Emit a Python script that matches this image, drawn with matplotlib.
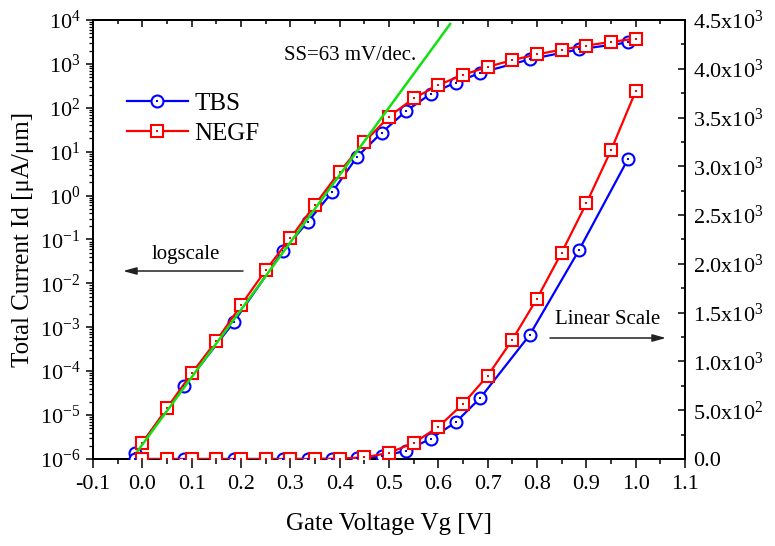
import math
import matplotlib
matplotlib.use("Agg")
import matplotlib.pyplot as plt
from matplotlib.ticker import MultipleLocator, LogLocator, FuncFormatter, FixedLocator, NullFormatter
from matplotlib.legend_handler import HandlerTuple

# ---------------- data ----------------
V_tbs = [-0.015, 0.085, 0.185, 0.285, 0.335, 0.385, 0.435, 0.485, 0.535,
         0.585, 0.635, 0.685, 0.785, 0.885, 0.985]
I_tbs = [1.4e-6, 4.6e-5, 1.3e-3, 0.055, 0.25, 1.2, 7.6, 27, 85,
         210, 375, 625, 1270, 2140, 3080]

V_negf = [0.0, 0.05, 0.10, 0.15, 0.20, 0.25, 0.30, 0.35, 0.40, 0.45, 0.50,
          0.55, 0.60, 0.65, 0.70, 0.75, 0.80, 0.85, 0.90, 0.95, 1.00]
I_negf = [2.3e-6, 1.45e-5, 8.9e-5, 4.9e-4, 3.2e-3, 0.020, 0.107, 0.62, 3.5, 16.6, 63,
          164, 329, 565, 853, 1223, 1644, 2116, 2620, 3164, 3770]

V_ss = [-0.02, 0.624]
I_ss = [1.05e-6, 8.1e3]

x_ticks = [-0.1, 0.0, 0.1, 0.2, 0.3, 0.4, 0.5, 0.6, 0.7, 0.8, 0.9, 1.0, 1.1]
x_labels = ["-0.1", "0.0", "0.1", "0.2", "0.3", "0.4", "0.5", "0.6", "0.7",
            "0.8", "0.9", "1.0", "1.1"]
r_ticks = [0, 500, 1000, 1500, 2000, 2500, 3000, 3500, 4000, 4500]

# ---------------- style ----------------
plt.rcParams['font.family'] = ['Liberation Serif', 'DejaVu Serif']
plt.rcParams['mathtext.fontset'] = 'custom'
plt.rcParams['mathtext.rm'] = 'Liberation Serif'
plt.rcParams['mathtext.it'] = 'Liberation Serif:italic'
plt.rcParams['mathtext.bf'] = 'Liberation Serif:bold'
plt.rcParams['axes.unicode_minus'] = False

BLUE = '#0000ff'
RED = '#ff0000'
GREEN = '#11e011'

fig = plt.figure(figsize=(7.75, 5.46), dpi=100)
ax = fig.add_axes([93/775, 1-459/546, (685-93)/775, (459-20)/546])
ax2 = ax.twinx()

ms = 8.6
mew = 1.5
lw = 1.6

def draw(a, V, I, color, marker):
    ln, = a.plot(V, I, color=color, lw=lw, marker=marker, ms=ms,
                 mfc='white', mec=color, mew=mew, zorder=3)
    dot, = a.plot(V, I, ls='none', marker='s', ms=1.6, mfc=color, mec=color,
                  mew=0, zorder=4)
    return ln, dot

# log curves
l1 = draw(ax, V_tbs, I_tbs, BLUE, 'o')
l2 = draw(ax, V_negf, I_negf, RED, 's')
ax.plot(V_ss, I_ss, color=GREEN, lw=1.8, zorder=5)

# linear curves
draw(ax2, V_tbs, I_tbs, BLUE, 'o')
draw(ax2, V_negf, I_negf, RED, 's')

ax.set_yscale('log')
ax.set_xlim(-0.1, 1.1)
ax.set_ylim(1e-6, 1e4)
ax2.set_ylim(0, 4500)

# x axis
ax.xaxis.set_major_locator(FixedLocator(x_ticks))
ax.set_xticklabels(x_labels)
ax.xaxis.set_minor_locator(MultipleLocator(0.05))
ax.tick_params(axis='x', which='major', direction='out', length=6.5, width=1.1,
               labelsize=16, pad=5, top=False)
ax.tick_params(axis='x', which='minor', direction='out', length=3.5, width=1.1, top=False)
sec = ax.secondary_xaxis('top')
sec.xaxis.set_major_locator(FixedLocator(x_ticks))
sec.xaxis.set_minor_locator(MultipleLocator(0.05))
sec.tick_params(axis='x', which='major', direction='in', length=5, width=1.1, labeltop=False)
sec.tick_params(axis='x', which='minor', direction='in', length=3, width=1.1)
sec.spines['top'].set_linewidth(1.4)

# left log axis
ax.yaxis.set_major_locator(LogLocator(base=10, numticks=20))
ax.yaxis.set_minor_locator(LogLocator(base=10, subs=[2, 3, 4, 5, 6, 7, 8, 9], numticks=20))
ax.yaxis.set_minor_formatter(NullFormatter())
ax.yaxis.set_major_formatter(FuncFormatter(lambda v, p: r'$\mathregular{10^{%d}}$' % round(math.log10(v))))
ax.tick_params(axis='y', which='major', direction='out', length=5, width=1.1, labelsize=16, pad=4)
ax.tick_params(axis='y', which='minor', direction='out', length=2.8, width=0.9)

# right linear axis
def rfmt(v, p):
    if v == 0:
        return '0.0'
    if v < 1000:
        return r'$\mathregular{%.1fx10^{2}}$' % (v / 100)
    return r'$\mathregular{%.1fx10^{3}}$' % (v / 1000)
ax2.yaxis.set_major_locator(FixedLocator(r_ticks))
ax2.yaxis.set_minor_locator(MultipleLocator(250))
ax2.yaxis.set_major_formatter(FuncFormatter(rfmt))
ax2.tick_params(axis='y', which='major', direction='in', length=5, width=1.1, labelsize=16, pad=6)
ax2.tick_params(axis='y', which='minor', direction='in', length=3, width=1.1)

for sp in ax.spines.values():
    sp.set_linewidth(1.4)
for sp in ax2.spines.values():
    sp.set_linewidth(1.4)

ax.set_xlabel('Gate Voltage Vg [V]', fontsize=18, labelpad=14)
ax.set_ylabel('Total Current Id [\u03bcA/\u03bcm]', fontsize=18, labelpad=4)

# legend
leg = ax2.legend([l1, l2], ['TBS', 'NEGF'], handler_map={tuple: HandlerTuple(ndivide=1)},
                 loc='upper left', bbox_to_anchor=(0.057, 0.835), frameon=False,
                 fontsize=18, handlelength=2.45, handletextpad=0.25, labelspacing=0.3,
                 borderpad=0, borderaxespad=0)

def px(xp, yp):
    # convert reference pixel coords to figure fraction
    return (xp / 775, 1 - yp / 546)

fig.text(*px(350, 55), 'SS=63 mV/dec.', fontsize=15, ha='center', va='center')
fig.text(*px(186, 254), 'logscale', fontsize=15, ha='center', va='center')
fig.text(*px(608, 320), 'Linear Scale', fontsize=15, ha='center', va='center')

arrowprops = dict(arrowstyle='-|>,head_length=0.8,head_width=0.22', color='#222222', lw=1.1,
                  shrinkA=0, shrinkB=0)
ax2.annotate('', xy=px(123, 271), xytext=px(243, 271), xycoords='figure fraction',
             textcoords='figure fraction', arrowprops=arrowprops)
ax2.annotate('', xy=px(666, 338), xytext=px(550, 338), xycoords='figure fraction',
             textcoords='figure fraction', arrowprops=arrowprops)

fig.savefig('out.png', dpi=100)
